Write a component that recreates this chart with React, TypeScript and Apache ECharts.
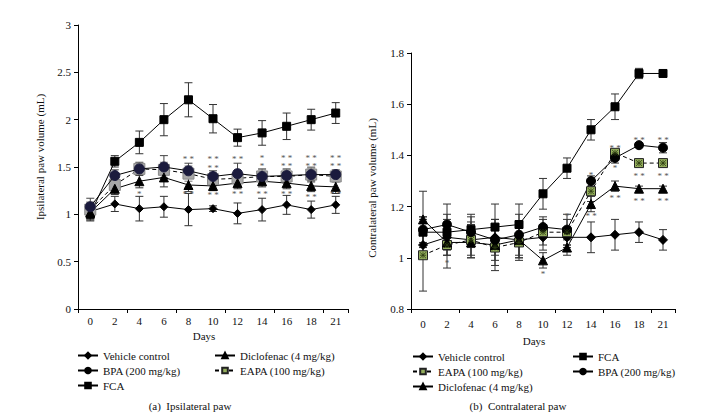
import React, { useEffect, useRef } from "react";
import * as echarts from "echarts";

const days = ["0", "2", "4", "6", "8", "10", "12", "14", "16", "18", "21"];

const NAME_VEH = "Vehicle control";
const NAME_BPA = "BPA (200 mg/kg)";
const NAME_FCA = "FCA";
const NAME_DIC = "Diclofenac (4 mg/kg)";
const NAME_EAPA = "EAPA (100 mg/kg)";

// (a) Ipsilateral paw
const ipsiVehicle = [1.03, 1.11, 1.06, 1.08, 1.05, 1.06, 1.01, 1.05, 1.10, 1.05, 1.10];
const ipsiVehicleErr = [0.09, 0.08, 0.13, 0.11, 0.17, 0.03, 0.11, 0.12, 0.10, 0.09, 0.09];
const ipsiFCA = [1.0, 1.56, 1.76, 2.0, 2.21, 2.01, 1.81, 1.86, 1.93, 2.0, 2.07];
const ipsiFCAErr = [0.07, 0.06, 0.12, 0.17, 0.18, 0.15, 0.09, 0.13, 0.14, 0.11, 0.11];
const ipsiBPA = [1.08, 1.41, 1.48, 1.5, 1.46, 1.4, 1.43, 1.4, 1.41, 1.42, 1.42];
const ipsiBPAErr = [0.09, 0.06, 0.07, 0.12, 0.08, 0.06, 0.11, 0.08, 0.07, 0.07, 0.05];
const ipsiEAPA = [1.05, 1.31, 1.48, 1.47, 1.43, 1.37, 1.38, 1.4, 1.4, 1.42, 1.4];
const ipsiEAPAErr = [0.08, 0.07, 0.06, 0.08, 0.08, 0.07, 0.08, 0.07, 0.07, 0.08, 0.06];
const ipsiDiclo = [1.02, 1.27, 1.35, 1.39, 1.31, 1.3, 1.33, 1.35, 1.33, 1.3, 1.29];
const ipsiDicloErr = [0.07, 0.06, 0.07, 0.1, 0.07, 0.05, 0.06, 0.06, 0.06, 0.06, 0.07];

// significance marks: day index, y value, text
const ipsiStarDay = [2, 4, 4, 5, 5, 5, 6, 6, 7, 7, 7, 8, 8, 8, 9, 9, 9, 10, 10, 10];
const ipsiStarVal = [1.22, 1.58, 1.21, 1.58, 1.49, 1.2, 1.58, 1.21, 1.6, 1.51, 1.21, 1.6, 1.51, 1.22, 1.6, 1.51, 1.18, 1.6, 1.51, 1.21];
const ipsiStarText = ["*", "* *", "* *", "* *", "* *", "* *", "* *", "* *", "*", "*", "* *", "* *", "* *", "* *", "* *", "* *", "* *", "* *", "* *", "* *"];

// (b) Contralateral paw
const contraVehicle = [1.05, 1.08, 1.07, 1.08, 1.07, 1.08, 1.08, 1.08, 1.09, 1.1, 1.07];
const contraVehicleErr = [0.05, 0.07, 0.06, 0.07, 0.07, 0.05, 0.04, 0.06, 0.06, 0.04, 0.04];
const contraFCA = [1.1, 1.1, 1.11, 1.12, 1.13, 1.25, 1.35, 1.5, 1.59, 1.72, 1.72];
const contraFCAErr = [0.06, 0.07, 0.06, 0.09, 0.08, 0.06, 0.04, 0.04, 0.05, 0.02, 0.01];
const contraBPA = [1.11, 1.13, 1.1, 1.07, 1.09, 1.12, 1.11, 1.3, 1.39, 1.44, 1.43];
const contraBPAErr = [0.05, 0.08, 0.06, 0.08, 0.08, 0.04, 0.06, 0.02, 0.02, 0.01, 0.02];
const contraEAPA = [1.01, 1.05, 1.07, 1.04, 1.06, 1.1, 1.1, 1.26, 1.41, 1.37, 1.37];
const contraEAPAErr = [0.14, 0.09, 0.07, 0.09, 0.07, 0.05, 0.05, 0.04, 0.01, 0.01, 0.01];
const contraDiclo = [1.15, 1.06, 1.06, 1.05, 1.07, 0.99, 1.04, 1.21, 1.28, 1.27, 1.27];
const contraDicloErr = [0.11, 0.05, 0.06, 0.08, 0.07, 0.03, 0.03, 0.03, 0.02, 0.01, 0.01];

const contraStarDay = [1, 5, 6, 7, 7, 8, 8, 8, 9, 9, 9, 10, 10, 10];
const contraStarVal = [0.98, 0.935, 1.165, 1.325, 1.165, 1.43, 1.35, 1.235, 1.46, 1.32, 1.22, 1.46, 1.32, 1.22];
const contraStarText = ["*", "*", "*", "*", "* *", "* *", "*", "* *", "* *", "* *", "* *", "* *", "* *", "* *"];

const FONT = "Liberation Serif";
const STAR_PATH = "path://M0,0L10,10M10,0L0,10M5,0L5,10M0,5L10,5";

function errSeries(vals: number[], errs: number[], axis: number, color: string, cap: number) {
  return {
    type: "custom",
    xAxisIndex: axis,
    yAxisIndex: axis,
    z: 1,
    silent: true,
    data: vals.map((v, i) => [i, v, errs[i]]),
    renderItem: (params: any, api: any) => {
      const i = api.value(0);
      const v = api.value(1);
      const e = api.value(2);
      const top = api.coord([i, v + e]);
      const bot = api.coord([i, v - e]);
      const st = { stroke: color, lineWidth: 1 };
      return {
        type: "group",
        children: [
          { type: "line", shape: { x1: top[0], y1: top[1], x2: bot[0], y2: bot[1] }, style: st },
          { type: "line", shape: { x1: top[0] - cap, y1: top[1], x2: top[0] + cap, y2: top[1] }, style: st },
          { type: "line", shape: { x1: bot[0] - cap, y1: bot[1], x2: bot[0] + cap, y2: bot[1] }, style: st },
        ],
      };
    },
  };
}

function starSeries(dayIdx: number[], vals: number[], texts: string[], axis: number) {
  return {
    type: "custom",
    xAxisIndex: axis,
    yAxisIndex: axis,
    z: 6,
    silent: true,
    data: dayIdx.map((d, i) => [d, vals[i]]),
    renderItem: (params: any, api: any) => {
      const p = api.coord([api.value(0), api.value(1)]);
      const t = texts[params.dataIndex];
      return {
        type: "text",
        x: p[0],
        y: p[1],
        style: {
          text: t,
          fill: "#555",
          font: `9px "${FONT}"`,
          align: "center",
          verticalAlign: "middle",
          textAlign: "center",
          textVerticalAlign: "middle",
        },
      };
    },
  };
}

function lineSeries(name: string, vals: number[], axis: number, symbol: string, size: number, fill: string, z: number, dashed = false, border = "#000") {
  return {
    type: "line",
    name,
    xAxisIndex: axis,
    yAxisIndex: axis,
    z,
    data: vals,
    symbol,
    symbolSize: size,
    showAllSymbol: true,
    itemStyle: { color: fill, borderColor: border, borderWidth: 1 },
    lineStyle: { color: "#000", width: 1, type: dashed ? [4, 3] : "solid" },
    emphasis: { disabled: true },
  };
}

function starOverlay(vals: number[], axis: number, color: string) {
  return {
    type: "scatter",
    name: "eapa-mark-" + axis,
    xAxisIndex: axis,
    yAxisIndex: axis,
    z: 4,
    silent: true,
    data: vals,
    symbol: STAR_PATH,
    symbolSize: 6,
    itemStyle: { color: "rgba(0,0,0,0)", borderColor: color, borderWidth: 1 },
    emphasis: { disabled: true },
  };
}

function xAxis(grid: number, labelMargin: number) {
  return {
    type: "category",
    gridIndex: grid,
    data: days,
    boundaryGap: true,
    axisLine: { show: true, lineStyle: { color: "#000", width: 1 } },
    axisTick: { show: true, interval: 1, length: 4, alignWithLabel: false, lineStyle: { color: "#000" } },
    axisLabel: { interval: 0, margin: labelMargin, color: "#111", fontFamily: FONT, fontSize: 11 },
    splitLine: { show: false },
  };
}

function yAxis(grid: number, min: number, max: number, interval: number) {
  return {
    type: "value",
    gridIndex: grid,
    min,
    max,
    interval,
    axisLine: { show: true, lineStyle: { color: "#000", width: 1 } },
    axisTick: { show: true, length: 4, lineStyle: { color: "#000" } },
    axisLabel: { margin: 7, color: "#111", fontFamily: FONT, fontSize: 11 },
    splitLine: { show: false },
  };
}

const legendBase = {
  orient: "vertical",
  selectedMode: false,
  padding: 0,
  itemWidth: 20,
  itemHeight: 7,
  itemGap: 4,
  textStyle: { fontFamily: FONT, fontSize: 11, color: "#111" },
};

function text(x: number, y: number, t: string, rotation = 0) {
  return {
    type: "text",
    x,
    y,
    rotation,
    style: {
      text: t,
      fill: "#111",
      font: `11px "${FONT}"`,
      textAlign: "center",
      textVerticalAlign: "middle",
      align: "center",
      verticalAlign: "middle",
    },
  };
}

export default function App() {
  const ref = useRef<HTMLDivElement>(null);
  useEffect(() => {
    if (!ref.current) return;
    const chart = echarts.init(ref.current, undefined, { renderer: "svg" });
    const green = "#93ad5c";
    chart.setOption({
      animation: false,
      backgroundColor: "#fff",
      grid: [
        { left: 78, top: 25, width: 270, height: 284 },
        { left: 411, top: 53, width: 264, height: 256 },
      ],
      xAxis: [xAxis(0, 6), xAxis(1, 9)],
      yAxis: [yAxis(0, 0, 3, 0.5), yAxis(1, 0.8, 1.8, 0.2)],
      legend: [
        { ...legendBase, data: [NAME_VEH, NAME_BPA, NAME_FCA], left: 77, top: 350 },
        { ...legendBase, data: [NAME_DIC, NAME_EAPA], left: 214, top: 350 },
        { ...legendBase, data: [NAME_VEH, NAME_EAPA, NAME_DIC], left: 412, top: 351 },
        { ...legendBase, data: [NAME_FCA, NAME_BPA], left: 572, top: 351 },
      ],
      graphic: [
        text(40, 157, "Ipsilateral paw volume (mL)", Math.PI / 2),
        text(372, 188, "Contralateral paw volume (mL)", Math.PI / 2),
        text(204, 336, "Days"),
        text(534, 341, "Days"),
        text(190, 406, "(a)  Ipsilateral paw"),
        text(518, 406, "(b)  Contralateral paw"),
      ],
      series: [
        // contralateral (first, so legend icons take these styles)
        errSeries(contraVehicle, contraVehicleErr, 1, "#333", 4),
        errSeries(contraFCA, contraFCAErr, 1, "#333", 4),
        errSeries(contraBPA, contraBPAErr, 1, "#333", 4),
        errSeries(contraEAPA, contraEAPAErr, 1, "#333", 4),
        errSeries(contraDiclo, contraDicloErr, 1, "#333", 4),
        lineSeries(NAME_VEH, contraVehicle, 1, "diamond", 9, "#000", 3),
        lineSeries(NAME_FCA, contraFCA, 1, "rect", 8, "#000", 3),
        lineSeries(NAME_EAPA, contraEAPA, 1, "rect", 9, green, 3, true, "#222"),
        lineSeries(NAME_DIC, contraDiclo, 1, "triangle", 9, "#000", 3),
        lineSeries(NAME_BPA, contraBPA, 1, "circle", 9, "#000", 3),
        starOverlay(contraEAPA, 1, "#2b3a10"),
        starSeries(contraStarDay, contraStarVal, contraStarText, 1),
        // ipsilateral
        errSeries(ipsiVehicle, ipsiVehicleErr, 0, "#333", 4),
        errSeries(ipsiFCA, ipsiFCAErr, 0, "#333", 4),
        errSeries(ipsiBPA, ipsiBPAErr, 0, "#444", 4),
        errSeries(ipsiEAPA, ipsiEAPAErr, 0, "#777", 4),
        errSeries(ipsiDiclo, ipsiDicloErr, 0, "#333", 4),
        lineSeries(NAME_VEH, ipsiVehicle, 0, "diamond", 8, "#000", 3),
        lineSeries(NAME_FCA, ipsiFCA, 0, "rect", 8, "#000", 3),
        lineSeries(NAME_EAPA, ipsiEAPA, 0, "rect", 11, "#a8a8a8", 3, true, "#8a8a8a"),
        lineSeries(NAME_DIC, ipsiDiclo, 0, "triangle", 9, "#000", 3),
        lineSeries(NAME_BPA, ipsiBPA, 0, "circle", 10, "#1b1b3d", 4, false, "#1b1b3d"),
        starSeries(ipsiStarDay, ipsiStarVal, ipsiStarText, 0),
      ],
    });
    return () => chart.dispose();
  }, []);
  return <div ref={ref} style={{ position: "fixed", left: 0, top: 0, width: 724, height: 419 }} />;
}
